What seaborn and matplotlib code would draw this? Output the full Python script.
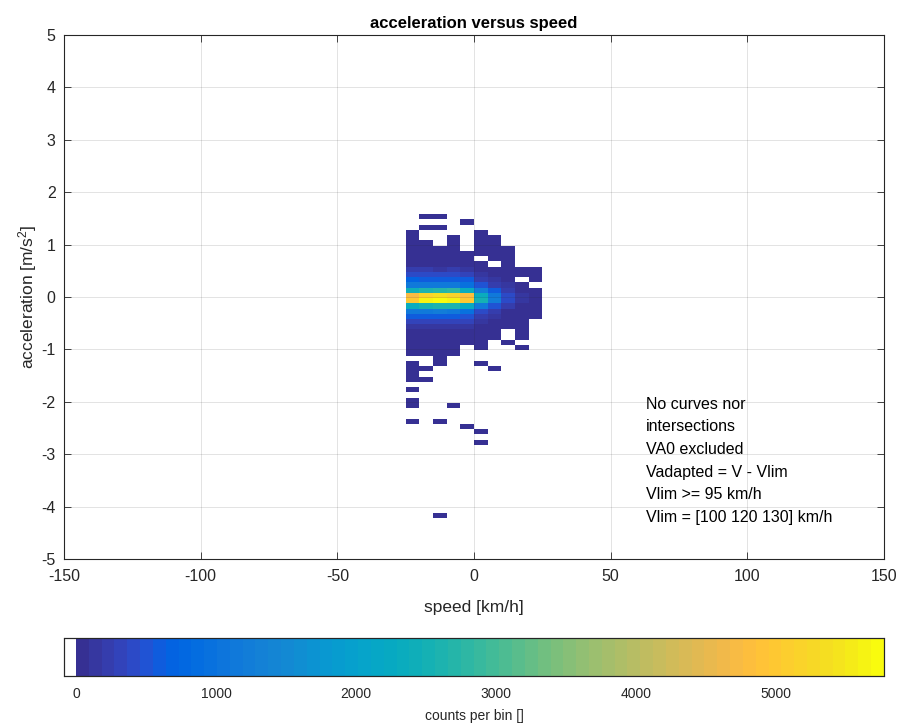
import numpy as np
import matplotlib
matplotlib.use("Agg")
import matplotlib.pyplot as plt
import seaborn as sns
from matplotlib.colors import ListedColormap

# ---------------- data ----------------
speed_edges = [-25, -20, -15, -10, -5, 0, 5, 10, 15, 20, 25]
speed_centers = [-22.5, -17.5, -12.5, -7.5, -2.5, 2.5, 7.5, 12.5, 17.5, 22.5]

acc_centers = [1.53, 1.43, 1.33, 1.23, 1.13, 1.03, 0.93, 0.83, 0.73, 0.63,
               0.53, 0.43, 0.33, 0.23, 0.13, 0.03, -0.07, -0.17, -0.27, -0.37,
               -0.47, -0.57, -0.67, -0.77, -0.87, -0.97, -1.07, -1.17, -1.27,
               -1.37, -1.47, -1.57, -1.77, -1.97, -2.07, -2.37, -2.47, -2.57,
               -2.77, -4.17]

counts = [
    [0, 3, 2, 0, 0, 0, 0, 0, 0, 0],
    [0, 0, 0, 0, 2, 0, 0, 0, 0, 0],
    [0, 2, 3, 0, 0, 0, 0, 0, 0, 0],
    [4, 0, 0, 0, 0, 3, 0, 0, 0, 0],
    [6, 0, 0, 5, 0, 4, 3, 0, 0, 0],
    [10, 6, 0, 8, 0, 6, 4, 0, 0, 0],
    [15, 10, 8, 12, 0, 8, 6, 3, 0, 0],
    [25, 18, 15, 20, 12, 12, 8, 5, 0, 0],
    [45, 35, 30, 35, 25, 0, 12, 8, 0, 0],
    [80, 70, 65, 70, 55, 30, 0, 12, 0, 0],
    [200, 190, 180, 190, 160, 80, 40, 20, 8, 4],
    [400, 380, 370, 380, 330, 150, 80, 40, 15, 6],
    [650, 640, 620, 640, 560, 260, 130, 60, 0, 8],
    [1100, 1150, 1150, 1150, 1000, 500, 250, 100, 40, 0],
    [2400, 2600, 2700, 2800, 2300, 1200, 600, 250, 80, 40],
    [4700, 5200, 5350, 5200, 4800, 2300, 1100, 400, 120, 60],
    [5000, 5600, 5755, 5650, 5000, 2500, 1200, 450, 130, 70],
    [2300, 2500, 2600, 2600, 2200, 1100, 500, 200, 70, 30],
    [1100, 1100, 1200, 1100, 1000, 450, 200, 90, 30, 15],
    [600, 580, 600, 580, 500, 200, 100, 40, 15, 8],
    [330, 320, 320, 320, 280, 100, 50, 20, 8, 0],
    [170, 160, 160, 160, 140, 50, 25, 10, 4, 0],
    [90, 85, 85, 85, 70, 25, 12, 0, 3, 0],
    [50, 45, 45, 45, 40, 12, 6, 0, 2, 0],
    [30, 25, 25, 25, 20, 6, 0, 3, 0, 0],
    [18, 15, 15, 12, 0, 4, 0, 0, 2, 0],
    [10, 8, 8, 6, 0, 0, 0, 0, 0, 0],
    [0, 0, 5, 0, 0, 0, 0, 0, 0, 0],
    [6, 0, 4, 0, 0, 3, 0, 0, 0, 0],
    [5, 3, 0, 0, 0, 0, 2, 0, 0, 0],
    [4, 0, 0, 0, 0, 0, 0, 0, 0, 0],
    [3, 2, 0, 0, 0, 0, 0, 0, 0, 0],
    [2, 0, 0, 0, 0, 0, 0, 0, 0, 0],
    [2, 0, 0, 0, 0, 0, 0, 0, 0, 0],
    [2, 0, 0, 1, 0, 0, 0, 0, 0, 0],
    [1, 0, 1, 0, 0, 0, 0, 0, 0, 0],
    [0, 0, 0, 0, 1, 0, 0, 0, 0, 0],
    [0, 0, 0, 0, 0, 1, 0, 0, 0, 0],
    [0, 0, 0, 0, 0, 1, 0, 0, 0, 0],
    [0, 0, 1, 0, 0, 0, 0, 0, 0, 0],
]

x_ticks = [-150, -100, -50, 0, 50, 100, 150]
y_ticks = [-5, -4, -3, -2, -1, 0, 1, 2, 3, 4, 5]
cbar_ticks = [0, 1000, 2000, 3000, 4000, 5000]

title = "acceleration versus speed"
x_label = "speed [km/h]"
y_label = "acceleration [m/s$^2$]"
cbar_label = "counts per bin []"
note = ("No curves nor\nintersections\nVA0 excluded\nVadapted = V - Vlim\n"
        "Vlim >= 95 km/h\nVlim = [100 120 130] km/h")

# ---------------- style ----------------
PARULA = [
    [0.2081, 0.1663, 0.5292], [0.2116, 0.1898, 0.5777], [0.2123, 0.2138, 0.6270], [0.2081, 0.2386, 0.6771],
    [0.1959, 0.2645, 0.7279], [0.1707, 0.2919, 0.7792], [0.1253, 0.3242, 0.8303], [0.0591, 0.3598, 0.8683],
    [0.0117, 0.3875, 0.8820], [0.0060, 0.4086, 0.8828], [0.0165, 0.4266, 0.8786], [0.0329, 0.4430, 0.8720],
    [0.0498, 0.4586, 0.8641], [0.0629, 0.4737, 0.8554], [0.0723, 0.4887, 0.8467], [0.0779, 0.5040, 0.8384],
    [0.0793, 0.5200, 0.8312], [0.0749, 0.5375, 0.8263], [0.0641, 0.5570, 0.8240], [0.0488, 0.5772, 0.8228],
    [0.0343, 0.5966, 0.8199], [0.0265, 0.6137, 0.8135], [0.0239, 0.6287, 0.8038], [0.0231, 0.6418, 0.7913],
    [0.0228, 0.6535, 0.7768], [0.0267, 0.6642, 0.7607], [0.0384, 0.6743, 0.7436], [0.0590, 0.6838, 0.7254],
    [0.0843, 0.6928, 0.7062], [0.1133, 0.7015, 0.6859], [0.1453, 0.7098, 0.6646], [0.1801, 0.7177, 0.6424],
    [0.2178, 0.7250, 0.6193], [0.2586, 0.7317, 0.5954], [0.3022, 0.7376, 0.5712], [0.3482, 0.7424, 0.5473],
    [0.3953, 0.7459, 0.5244], [0.4420, 0.7481, 0.5033], [0.4871, 0.7491, 0.4840], [0.5300, 0.7491, 0.4661],
    [0.5709, 0.7485, 0.4494], [0.6099, 0.7473, 0.4337], [0.6473, 0.7456, 0.4188], [0.6834, 0.7435, 0.4044],
    [0.7184, 0.7411, 0.3905], [0.7525, 0.7384, 0.3768], [0.7858, 0.7356, 0.3633], [0.8185, 0.7327, 0.3498],
    [0.8507, 0.7299, 0.3360], [0.8824, 0.7274, 0.3217], [0.9139, 0.7258, 0.3063], [0.9450, 0.7261, 0.2886],
    [0.9739, 0.7314, 0.2666], [0.9938, 0.7455, 0.2403], [0.9990, 0.7653, 0.2164], [0.9955, 0.7861, 0.1967],
    [0.9880, 0.8066, 0.1794], [0.9789, 0.8271, 0.1633], [0.9697, 0.8481, 0.1475], [0.9626, 0.8705, 0.1309],
    [0.9589, 0.8949, 0.1132], [0.9598, 0.9218, 0.0948], [0.9661, 0.9514, 0.0755], [0.9763, 0.9831, 0.0538],
]
VMIN, VMAX = -85, 5770
# colormap: white for values below 0, then 63 parula bands from 0 to VMAX
n = VMAX - VMIN
vals = VMIN + np.arange(n) + 0.5
band = np.clip((vals / VMAX * 63).astype(int), 0, 62)
cols = [(1, 1, 1) if v < 0 else tuple(PARULA[1 + b]) for v, b in zip(vals, band)]
cmap = ListedColormap(cols)

sns.set_style("white")
plt.rcParams["font.family"] = ["Liberation Sans", "DejaVu Sans"]
plt.rcParams["mathtext.default"] = "regular"
plt.rcParams["axes.unicode_minus"] = False
DARK = (0.15, 0.15, 0.15)

fig = plt.figure(figsize=(9.0, 7.26), dpi=100)
ax = fig.add_axes([64 / 900, 1 - 559 / 726, 820 / 900, 524 / 726])
cax = fig.add_axes([64 / 900, 1 - 676 / 726, 820 / 900, 38 / 726])

xs, ys, ws = [], [], []
for acc, row in zip(acc_centers, counts):
    for sp, c in zip(speed_centers, row):
        if c > 0:
            xs.append(sp)
            ys.append(acc)
            ws.append(c)

acc_edges = np.round(np.linspace(-4.22, 1.58, 59), 2)

sns.histplot(x=xs, y=ys, weights=ws, bins=[np.array(speed_edges, float), acc_edges],
             cmap=cmap, vmin=VMIN, vmax=VMAX, cbar=True, cbar_ax=cax,
             cbar_kws={"orientation": "horizontal", "ticks": cbar_ticks}, ax=ax)

ax.set_xlim(-150, 150)
ax.set_ylim(-5, 5)
ax.set_xticks(x_ticks)
ax.set_yticks(y_ticks)
ax.set_axisbelow(False)
ax.grid(True, color=DARK, alpha=0.15, linewidth=0.6)
for s in ax.spines.values():
    s.set_visible(True)
    s.set_color(DARK)
    s.set_linewidth(0.8)
ax.tick_params(direction="in", length=5, width=0.6, color=DARK, labelcolor=DARK,
               labelsize=11.5, top=True, right=True, bottom=True, left=True)
ax.tick_params(axis="x", pad=7)
ax.tick_params(axis="y", pad=6)
ax.set_xlabel(x_label, fontsize=12.5, color=DARK, labelpad=12)
ax.set_ylabel(y_label, fontsize=12.5, color=DARK, labelpad=2)
ax.set_title(title, fontsize=12, fontweight="bold", color="black", pad=5)

ax.text(63, -1.9, note, ha="left", va="top", fontsize=11.5, color="black",
        linespacing=1.64)

cax.tick_params(direction="in", length=5, width=0.6, color=DARK, labelcolor=DARK,
                labelsize=10, bottom=True, top=False, pad=8)
for s in cax.spines.values():
    s.set_visible(True)
    s.set_color(DARK)
    s.set_linewidth(0.8)
cax.set_xlabel(cbar_label, fontsize=10, color=DARK, labelpad=6)

fig.savefig("out.png", dpi=100)
